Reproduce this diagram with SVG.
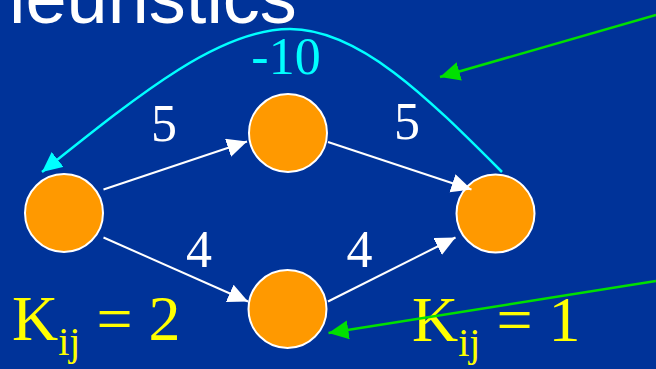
<svg xmlns="http://www.w3.org/2000/svg" width="656" height="369" viewBox="0 0 656 369">
<defs>
<style>
.node{fill:#FF9900;stroke:#FFFFFF;stroke-width:2}
.edge{fill:none;stroke:#FFFFFF;stroke-width:2}
.back{fill:none;stroke:#00FFFF;stroke-width:2.5}
.hint{fill:none;stroke:#00E000;stroke-width:2.5}
.num{font-family:"Liberation Serif","Times New Roman",serif;font-size:52px;fill:#FFFFFF;text-anchor:middle}
.k{font-family:"Liberation Serif","Times New Roman",serif;font-size:64px;fill:#FFFF00}
.title{font-family:"Liberation Sans",Arial,sans-serif;font-size:74px;fill:#FFFFFF}
</style>
<marker id="aw" markerUnits="userSpaceOnUse" markerWidth="22" markerHeight="20" refX="20" refY="9.5" orient="auto"><path d="M0,0 L20,9.5 L0,19 z" fill="#FFFFFF"/></marker>
<marker id="ac" markerUnits="userSpaceOnUse" markerWidth="22" markerHeight="20" refX="20" refY="9.5" orient="auto"><path d="M0,0 L20,9.5 L0,19 z" fill="#00FFFF"/></marker>
<marker id="ag" markerUnits="userSpaceOnUse" markerWidth="22" markerHeight="20" refX="20" refY="9.5" orient="auto"><path d="M0,0 L20,9.5 L0,19 z" fill="#00E000"/></marker>
</defs>
<rect width="656" height="369" fill="#003399"/>
<text id="title" class="title" x="9" y="23">leuristics</text>
<g id="n-left"><circle class="node" cx="64" cy="213" r="39"/></g>
<g id="n-top"><circle class="node" cx="288" cy="133" r="39"/></g>
<g id="n-right"><circle class="node" cx="495.5" cy="213.5" r="39"/></g>
<g id="n-bottom"><circle class="node" cx="287.5" cy="309" r="39"/></g>
<g id="labels">
<text class="num" x="164" y="141">5</text>
<text class="num" x="407" y="138.5">5</text>
<text class="num" x="199" y="267">4</text>
<text class="num" x="359.5" y="267">4</text>
<text class="num" x="286" y="73.5" style="fill:#00FFFF">-10</text>
<text class="k" x="12" y="340">K<tspan font-size="40" dy="15">ij</tspan><tspan dy="-15"> = 2</tspan></text>
<text class="k" x="412" y="340.5">K<tspan font-size="40" dy="15">ij</tspan><tspan dy="-15"> = 1</tspan></text>
</g>
<g id="connectors">
<path class="edge" d="M103.5,189.5 L247,141.5" marker-end="url(#aw)"/>
<path class="edge" d="M328,142 L471.5,189.5" marker-end="url(#aw)"/>
<path class="edge" d="M103.5,237.5 L248,301.5" marker-end="url(#aw)"/>
<path class="edge" d="M328,301.5 L455.5,237.5" marker-end="url(#aw)"/>
<path class="back" d="M502,172 C430,100 360,29 290,29 C220,29 142,92 42,172" marker-end="url(#ac)"/>
<path class="hint" d="M656,15 L440,77" marker-end="url(#ag)"/>
<path class="hint" d="M656,281 L328.5,333" marker-end="url(#ag)"/>
</g>
</svg>
